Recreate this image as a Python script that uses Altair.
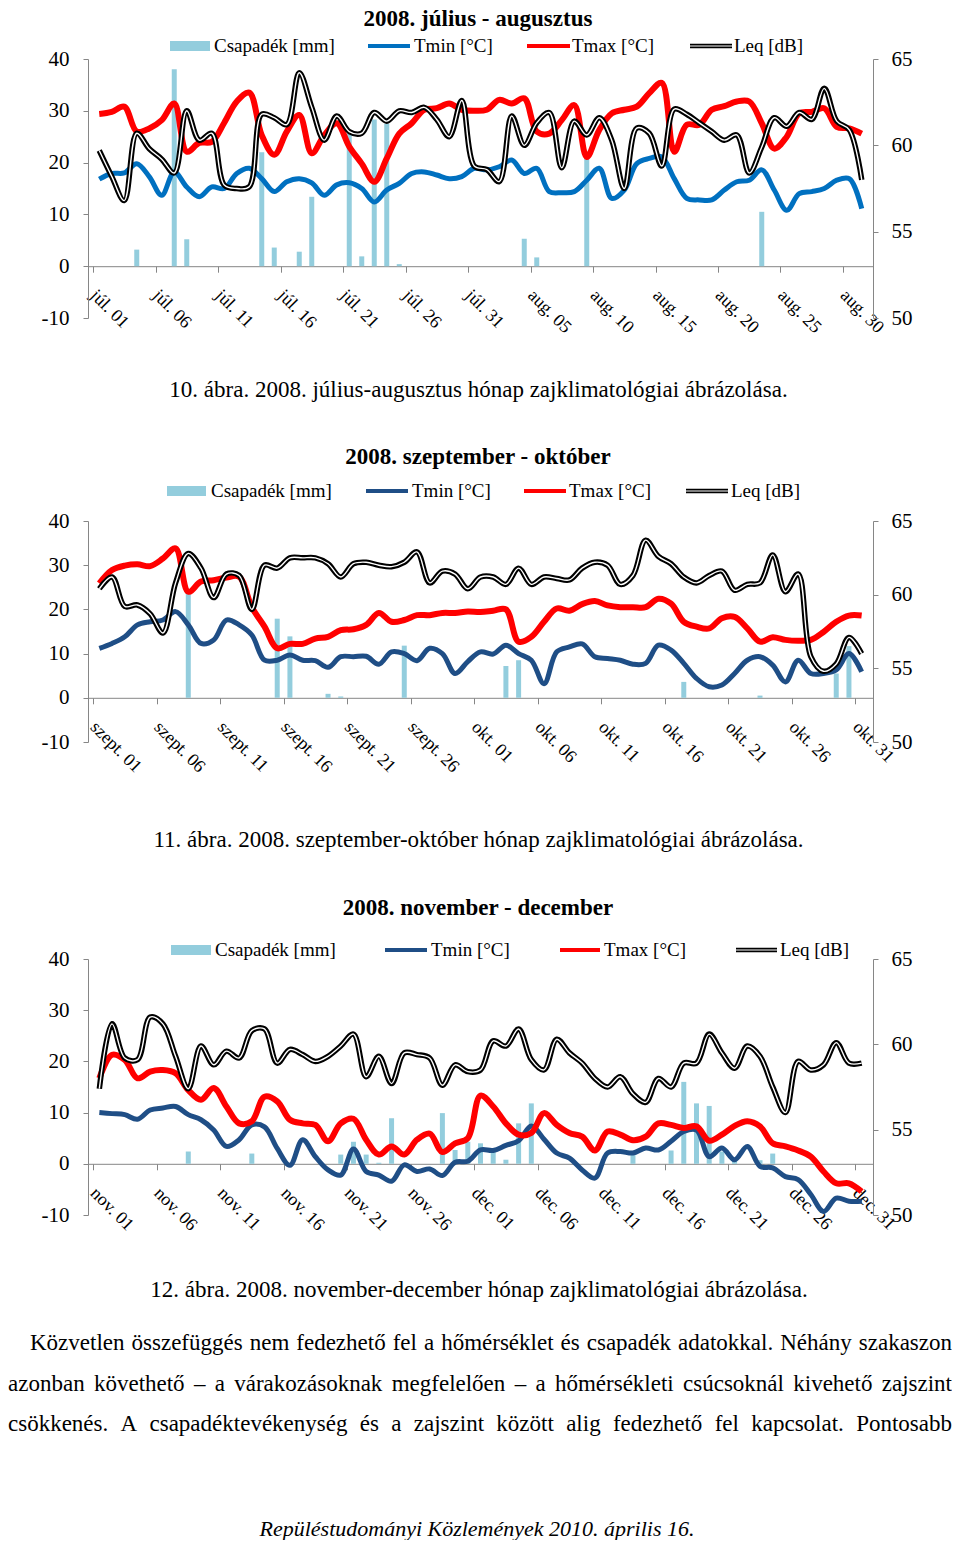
import altair as alt
import pandas as pd

FONT = "Liberation Serif"
BAR_COLOR = "#93CDDD"
RED = "#FF0000"
BLUE1 = "#0070C0"
BLUE2 = "#1F4E86"
AXIS_GRAY = "#868686"
W_PLOT = 785

# ------------------------------------------------------------------ data
titles = ["2008. július - augusztus", "2008. szeptember - október", "2008. november - december"]
captions = [
    "10. ábra. 2008. július-augusztus hónap zajklimatológiai ábrázolása.",
    "11. ábra. 2008. szeptember-október hónap zajklimatológiai ábrázolása.",
    "12. ábra. 2008. november-december hónap zajklimatológiai ábrázolása.",
]
legend_labels = ["Csapadék [mm]", "Tmin [°C]", "Tmax [°C]", "Leq [dB]"]

xlabels1 = ["júl. 01", "júl. 06", "júl. 11", "júl. 16", "júl. 21", "júl. 26", "júl. 31",
            "aug. 05", "aug. 10", "aug. 15", "aug. 20", "aug. 25", "aug. 30"]
xlabels2 = ["szept. 01", "szept. 06", "szept. 11", "szept. 16", "szept. 21", "szept. 26",
            "okt. 01", "okt. 06", "okt. 11", "okt. 16", "okt. 21", "okt. 26", "okt. 31"]
xlabels3 = ["nov. 01", "nov. 06", "nov. 11", "nov. 16", "nov. 21", "nov. 26",
            "dec. 01", "dec. 06", "dec. 11", "dec. 16", "dec. 21", "dec. 26", "dec. 31"]

# July - August (62 days)
prec1 = [0, 0, 0, 3.2, 0, 0, 38, 5.2, 0, 0,
         0, 0, 0, 22, 3.6, 0, 2.8, 13.4, 0, 0,
         25.5, 1.9, 28.3, 27.5, 0.4, 0, 0, 0, 0, 0,
         0, 0, 0, 0, 5.3, 1.7, 0, 0, 0, 21,
         0, 0, 0, 0, 0, 0, 0, 0, 0, 0,
         0, 0, 0, 10.5, 0, 0, 0, 0, 0, 0,
         0, 0]
tmin1 = [16.8, 17.9, 18.0, 19.8, 17.3, 13.7, 18.2, 15.3, 13.4, 15.3,
         15.0, 17.9, 18.9, 16.9, 14.4, 16.3, 16.9, 16.1, 13.7, 15.7,
         16.1, 15.0, 12.4, 14.7, 16.0, 17.9, 18.2, 17.6, 16.9, 17.3,
         18.9, 18.6, 19.2, 20.5, 17.9, 18.9, 14.4, 14.2, 14.4, 16.6,
         18.9, 13.1, 14.7, 19.8, 20.8, 21.1, 16.9, 13.1, 12.8, 12.8,
         14.7, 16.3, 16.6, 18.6, 14.7, 10.8, 14.0, 14.4, 15.0, 16.6,
         16.9, 11.1]
tmax1 = [29.4, 29.8, 30.8, 26.0, 26.6, 28.2, 31.4, 22.1, 23.8, 24.0,
         27.7, 31.8, 33.5, 25.3, 21.5, 26.0, 29.2, 21.8, 25.3, 27.6,
         23.1, 19.8, 16.3, 20.8, 25.6, 27.6, 30.2, 30.5, 31.4, 30.2,
         30.0, 30.2, 32.1, 31.4, 32.4, 26.0, 25.6, 28.2, 31.1, 21.1,
         26.3, 29.5, 30.2, 30.8, 33.4, 35.4, 22.1, 27.3, 27.3, 30.2,
         30.9, 31.8, 31.8, 27.6, 22.7, 25.0, 29.5, 29.8, 30.5, 26.9,
         26.6, 25.6]
leq1 = [59.7, 58.2, 56.8, 60.7, 59.8, 59.2, 58.4, 62.0, 60.3, 60.7,
        57.7, 57.5, 57.6, 61.8, 61.6, 61.2, 64.2, 62.2, 60.3, 61.7,
        60.8, 60.7, 61.9, 61.4, 62.0, 61.9, 62.2, 61.5, 60.5, 62.6,
        58.8, 58.6, 57.9, 61.7, 60.0, 61.3, 61.9, 58.7, 61.4, 60.6,
        61.6, 60.3, 57.5, 61.0, 60.7, 58.8, 62.1, 61.8, 61.3, 60.8,
        60.3, 60.6, 58.4, 59.9, 61.6, 61.1, 61.9, 61.5, 63.3, 61.4,
        60.9, 58.0]

# September - October (61 days)
prec2 = [0, 0, 0, 0, 0, 0, 0, 24, 0, 0,
         0, 0, 0, 0, 17.9, 13.9, 0, 0, 0.9, 0.3,
         0, 0, 0, 0, 11.8, 0, 0, 0, 0, 0,
         0, 0, 7.2, 8.5, 0, 0, 0, 0, 0, 0,
         0, 0, 0, 0, 0, 0, 3.6, 0, 0, 0,
         0, 0, 0.5, 0, 0, 0, 0, 0, 5.5, 11.7,
         0]
tmin2 = [11.2, 12.3, 13.8, 16.5, 17.2, 17.6, 19.5, 16.5, 12.3, 13.1,
         17.6, 16.5, 14.2, 8.5, 8.5, 9.7, 8.5, 8.4, 6.9, 9.3,
         9.3, 9.4, 7.6, 10.4, 10.0, 8.4, 11.2, 10.0, 5.5, 8.2,
         10.4, 9.9, 11.9, 10.0, 8.5, 3.2, 10.4, 11.5, 12.2, 9.3,
         8.9, 8.5, 7.6, 7.8, 11.9, 10.8, 7.8, 4.4, 2.5, 2.9,
         5.5, 8.5, 9.3, 7.4, 3.6, 8.5, 5.5, 5.5, 6.3, 10.0,
         5.9]
tmax2 = [25.9, 28.9, 29.9, 30.2, 29.8, 31.5, 33.8, 24.0, 26.3, 26.6,
         27.2, 27.4, 20.5, 16.1, 11.2, 12.2, 12.2, 13.4, 13.8, 15.3,
         15.5, 16.5, 19.2, 17.2, 17.6, 18.7, 18.7, 19.2, 19.2, 19.5,
         19.4, 19.7, 20.0, 12.7, 13.8, 17.2, 20.2, 19.7, 21.2, 21.9,
         20.9, 20.5, 20.5, 20.5, 22.4, 21.3, 17.2, 16.1, 15.7, 18.0,
         18.3, 15.7, 12.7, 13.7, 13.1, 12.9, 13.1, 14.9, 17.2, 18.6,
         18.6]
leq2 = [60.4, 61.2, 59.2, 59.3, 58.7, 57.4, 60.8, 62.8, 61.8, 59.8,
        61.4, 61.3, 59.0, 62.0, 61.8, 62.5, 62.5, 62.5, 62.1, 61.2,
        62.1, 62.2, 62.0, 61.9, 62.2, 62.9, 60.8, 61.6, 61.4, 60.4,
        61.2, 61.2, 60.7, 61.8, 60.7, 61.2, 61.1, 61.0, 61.8, 62.2,
        62.0, 60.7, 61.3, 63.7, 62.6, 62.1, 61.2, 60.8, 61.3, 61.6,
        60.3, 60.7, 60.8, 62.7, 60.2, 61.4, 55.8, 54.8, 55.3, 57.1,
        56.0]

# November - December (61 days)
prec3 = [0, 0, 0, 0, 0, 0, 0, 2.4, 0, 0,
         0, 0, 2.0, 0, 0, 0, 0, 0, 0, 1.8,
         4.3, 1.8, 0.2, 8.9, 0, 0, 0, 9.9, 2.7, 4.3,
         4.0, 2.4, 0.8, 7.9, 11.8, 0, 0, 0, 0, 0,
         0, 0, 1.8, 0, 0, 2.6, 16.0, 11.8, 11.3, 2.4,
         0.8, 0, 0.7, 2.0, 0, 0, 0, 0, 0, 0,
         0]
tmin3 = [10.0, 9.8, 9.6, 8.7, 10.5, 10.9, 11.2, 9.6, 8.6, 6.6,
         3.4, 4.7, 7.6, 7.2, 3.0, -0.3, 4.7, 1.4, -1.2, -2.2,
         2.9, -1.5, -2.2, -3.4, -0.2, -1.5, -1.0, -2.3, 0.3, 0.5,
         2.7, 2.6, 3.6, 4.5, 7.4, 4.8, 2.1, 1.1, -1.2, -2.8,
         2.1, 2.4, 2.1, 3.1, 2.7, 4.4, 6.3, 6.6, 1.4, 3.1,
         0.8, 3.4, -0.5, -0.8, -2.5, -3.1, -6.0, -9.3, -6.7, -7.3,
         -7.3]
tmax3 = [16.7, 21.3, 20.3, 16.7, 18.0, 18.3, 17.7, 14.4, 12.5, 14.8,
         11.2, 7.9, 8.3, 13.1, 12.2, 8.6, 7.9, 7.6, 4.4, 7.9,
         8.8, 4.7, 1.8, 3.4, 1.8, 4.7, 5.9, 2.3, 4.0, 5.0,
         13.3, 11.2, 7.9, 5.7, 6.0, 9.9, 7.6, 6.0, 5.3, 2.6,
         6.3, 5.7, 4.6, 5.3, 7.9, 7.6, 7.0, 7.3, 4.5, 5.7,
         7.4, 8.3, 7.3, 4.0, 3.4, 2.6, 1.4, -1.5, -3.8, -3.8,
         -5.4]
leq3 = [57.4, 61.2, 59.2, 59.1, 61.6, 61.2, 59.3, 57.4, 59.9, 58.8,
        59.6, 59.2, 60.8, 60.9, 58.9, 59.7, 59.4, 59.0, 59.3, 59.9,
        60.6, 58.1, 59.3, 57.7, 59.5, 59.4, 59.2, 57.6, 58.8, 58.4,
        58.5, 60.2, 59.9, 60.9, 59.1, 58.5, 60.3, 59.5, 58.9, 58.0,
        57.5, 58.1, 57.1, 56.6, 58.0, 57.5, 58.9, 58.9, 60.6, 59.5,
        58.6, 59.9, 59.3, 57.5, 56.0, 59.0, 58.5, 58.8, 60.1, 58.9,
        58.9]

paragraph = [
    "Közvetlen összefüggés nem fedezhető fel a hőmérséklet és csapadék adatokkal. Néhány szakaszon",
    "azonban követhető – a várakozásoknak megfelelően – a hőmérsékleti csúcsoknál kivehető zajszint",
    "csökkenés. A csapadéktevékenység és a zajszint között alig fedezhető fel kapcsolat. Pontosabb",
]
footer = "Repüléstudományi Közlemények 2010. április 16."

# ------------------------------------------------------------------ helpers
def one():
    return pd.DataFrame({"k": [0]})


def txt(text, x, y, size, align="left", baseline="alphabetic", weight="normal", style="normal"):
    return alt.Chart(one()).mark_text(
        text=text, align=align, baseline=baseline, font=FONT, fontSize=size,
        fontWeight=weight, fontStyle=style, color="black"
    ).encode(x=alt.value(x), y=alt.value(y))


def hrule(x0, x1, y, color, width):
    return alt.Chart(one()).mark_rule(color=color, strokeWidth=width).encode(
        x=alt.value(x0), x2=alt.value(x1), y=alt.value(y))


def rect(x0, x1, y0, y1, color):
    return alt.Chart(one()).mark_rect(color=color).encode(
        x=alt.value(x0), x2=alt.value(x1), y=alt.value(y0), y2=alt.value(y1))


def legend(y, lx, tmin_color):
    return [
        rect(lx["rect"][0], lx["rect"][1], y - 5, y + 5, BAR_COLOR),
        txt(legend_labels[0], lx["t0"], y, 19, baseline="middle"),
        hrule(lx["tmin"][0], lx["tmin"][1], y, tmin_color, 4),
        txt(legend_labels[1], lx["t1"], y, 19, baseline="middle"),
        hrule(lx["tmax"][0], lx["tmax"][1], y, RED, 4),
        txt(legend_labels[2], lx["t2"], y, 19, baseline="middle"),
        hrule(lx["leq"][0], lx["leq"][1], y, "black", 4.5),
        hrule(lx["leq"][0], lx["leq"][1], y, "white", 1),
        txt(legend_labels[3], lx["t3"], y, 19, baseline="middle"),
    ]


def axis_style(**kw):
    base = dict(grid=False, title=None, domainColor=AXIS_GRAY, tickColor=AXIS_GRAY,
                labelColor="black", labelFont=FONT)
    base.update(kw)
    return alt.Axis(**base)


def panel(xlabels, prec, tmin, tmax, leq, tmin_color, height):
    n = len(prec)
    df = pd.DataFrame({"x": [i + 0.5 for i in range(n)], "prec": prec,
                       "tmin": tmin, "tmax": tmax, "leq": leq})
    base = alt.Chart(df)
    xscale = alt.Scale(domain=[0, n], nice=False, zero=False)
    lab_expr = "[" + ",".join("'%s'" % s for s in xlabels) + "][round(datum.value/5)]"
    xaxis = axis_style(values=list(range(0, 61, 5)), labelExpr=lab_expr, offset=-height / 5.0,
                       labelAngle=45, labelAlign="left", labelBaseline="top",
                       labelOverlap=False, labelFlush=False, labelBound=False,
                       tickSize=6, labelPadding=14, labelOffset=6, labelFontSize=18)
    X = alt.X("x:Q", scale=xscale, axis=xaxis)
    yl_scale = alt.Scale(domain=[-10, 40], nice=False, zero=False)
    yl_axis = axis_style(values=[-10, 0, 10, 20, 30, 40], orient="left",
                         labelExpr="'' + datum.value", tickSize=5, labelPadding=14,
                         labelFontSize=21)
    yr_scale = alt.Scale(domain=[50, 65], nice=False, zero=False)
    yr_axis = axis_style(values=[50, 55, 60, 65], orient="right", tickSize=5,
                         labelPadding=13, labelFontSize=21)
    interp = "catmull-rom"

    bars = base.transform_filter("datum.prec > 0").mark_bar(size=5, color=BAR_COLOR).encode(
        x=X, y=alt.Y("prec:Q", scale=yl_scale, axis=yl_axis))
    l_tmin = base.mark_line(color=tmin_color, strokeWidth=5, interpolate=interp).encode(
        x=X, y=alt.Y("tmin:Q", scale=yl_scale, axis=None))
    l_tmax = base.mark_line(color=RED, strokeWidth=6, interpolate=interp).encode(
        x=X, y=alt.Y("tmax:Q", scale=yl_scale, axis=None))
    l_leq = base.mark_line(color="black", strokeWidth=5.5, interpolate=interp).encode(
        x=X, y=alt.Y("leq:Q", scale=yr_scale, axis=yr_axis))
    l_leq_w = base.mark_line(color="white", strokeWidth=1.4, interpolate=interp).encode(
        x=X, y=alt.Y("leq:Q", scale=yr_scale, axis=None))
    return alt.layer(bars, l_tmin, l_tmax, l_leq, l_leq_w).resolve_scale(
        y="independent").properties(width=W_PLOT, height=height)


# ------------------------------------------------------------------ layout pieces
lx1 = dict(rect=(82, 122), t0=126, tmin=(280, 322), t1=326, tmax=(439, 482), t2=484,
           leq=(602, 644), t3=646)
lx2 = dict(rect=(79, 118), t0=123, tmin=(278, 320), t1=324, tmax=(436, 478), t2=481,
           leq=(598, 640), t3=643)
lx3 = dict(rect=(83, 123), t0=127, tmin=(297, 339), t1=343, tmax=(472, 512), t2=516,
           leq=(648, 689), t3=692)

head1 = alt.layer(
    txt(titles[0], 390, 0, 23, align="center", baseline="top", weight="bold"),
    *legend(38, lx1, BLUE1),
).properties(width=W_PLOT, height=51)

p1 = panel(xlabels1, prec1, tmin1, tmax1, leq1, BLUE1, 259)

s1 = alt.layer(
    txt(captions[0], 390.5, 79, 23, align="center"),
    txt(titles[1], 390, 146, 23, align="center", weight="bold"),
    *legend(173, lx2, BLUE2),
).properties(width=W_PLOT, height=203)

p2 = panel(xlabels2, prec2, tmin2, tmax2, leq2, BLUE2, 221)

s2 = alt.layer(
    txt(captions[1], 390.5, 105, 23, align="center"),
    txt(titles[2], 390, 173, 23, align="center", weight="bold"),
    *legend(208, lx3, BLUE2),
).properties(width=W_PLOT, height=217)

p3 = panel(xlabels3, prec3, tmin3, tmax3, leq3, BLUE2, 256)

# justified paragraph (Times-metric widths)
CW = {'a': 444, 'b': 500, 'c': 444, 'd': 500, 'e': 444, 'f': 333, 'g': 500, 'h': 500,
      'i': 278, 'j': 278, 'k': 500, 'l': 278, 'm': 778, 'n': 500, 'o': 500, 'p': 500,
      'q': 500, 'r': 333, 's': 389, 't': 278, 'u': 500, 'v': 500, 'w': 722, 'x': 500,
      'y': 500, 'z': 444, 'á': 444, 'é': 444, 'í': 278, 'ó': 500, 'ö': 500, 'ő': 500,
      'ú': 500, 'ü': 500, 'ű': 500, 'A': 722, 'K': 722, 'N': 722, 'P': 556, 'R': 667,
      '.': 250, ',': 250, '–': 500, '-': 333}
PSIZE = 23
line_spans = [(-58, 864), (-80, 864), (-80, 864)]
line_base = [135, 176, 216]
rows = []
for line, (x0, x1), yb in zip(paragraph, line_spans, line_base):
    words = line.split(" ")
    widths = [sum(CW.get(c, 500) for c in w) * PSIZE / 1000.0 for w in words]
    gap = (x1 - x0 - sum(widths)) / (len(words) - 1)
    x = x0
    for w, wd in zip(words, widths):
        rows.append({"w": w, "px": x, "py": yb})
        x += wd + gap
words_df = pd.DataFrame(rows)
para = alt.Chart(words_df).mark_text(align="left", baseline="alphabetic", font=FONT,
                                     fontSize=PSIZE, color="black").encode(
    x=alt.X("px:Q", scale=None, axis=None),
    y=alt.Y("py:Q", scale=None, axis=None),
    text="w:N")

tail = alt.layer(
    txt(captions[2], 391, 82, 23, align="center"),
    para,
    txt(footer, 389, 321, 22, align="center", style="italic"),
).properties(width=W_PLOT, height=320)

chart = alt.vconcat(head1, p1, s1, p2, s2, p3, tail, spacing=0, bounds="flush").properties(
    padding=0).configure_view(stroke=None)

chart.save("out.html", embed_options={"renderer": "svg", "actions": False})
